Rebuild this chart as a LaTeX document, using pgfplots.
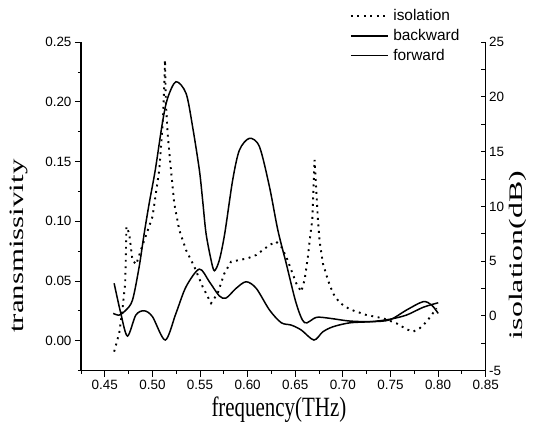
\documentclass[border=0pt]{standalone}
\usepackage{fontspec}
\setmainfont{Liberation Sans}
\newfontfamily\tnr{Liberation Serif}
\usepackage{graphicx}
\usepackage{pgfplots}
\pgfplotsset{compat=1.18}
\usetikzlibrary{calc}

\begin{document}
\begin{tikzpicture}
\pgfplotsset{
  every axis/.append style={
    width=404.7bp, height=328.4bp, scale only axis,
    xmin=0.425, xmax=0.85,
    /pgf/number format/assume math mode=true,
    tick style={line width=0.9pt, black},
    axis line style={line width=1.2pt},
    ticklabel style={font=\fontsize{13.5}{15}\selectfont},
  },
  curve/.style={black, line width=1.5pt, smooth, tension=0.5},
}
% transmissivity (left axis)
\begin{axis}[
  axis x line*=bottom, axis y line*=left,
  ymin=-0.025, ymax=0.25,
  xtick={0.45,0.50,0.55,0.60,0.65,0.70,0.75,0.80,0.85},
  minor xtick={0.425,0.475,0.525,0.575,0.625,0.675,0.725,0.775,0.825},
  ytick={0,0.05,0.10,0.15,0.20,0.25},
  minor ytick={-0.025,0.025,0.075,0.125,0.175,0.225},
  tick align=outside, major tick length=6bp, minor tick length=3bp,
  xticklabel style={/pgf/number format/.cd, fixed, fixed zerofill, precision=2},
  yticklabel style={/pgf/number format/.cd, fixed, fixed zerofill, precision=2},
  xlabel={\scalebox{0.75}[1]{\tnr\fontsize{28}{30}\selectfont frequency(THz)}},
  xlabel style={at={(axis description cs:0.489,-0.12)}, anchor=center},
  ylabel={\scalebox{1}[0.66]{\tnr\fontsize{31}{33}\selectfont transmissivity}},
  ylabel style={at={(axis description cs:-0.153,0.379)}, anchor=center},
]
\coordinate (ll) at (rel axis cs:0,0);
\coordinate (ur) at (rel axis cs:1,1);
% forward
\addplot[curve] coordinates {
  (0.4588,0.0229) (0.4651,0.0215) (0.4720,0.0255) (0.4791,0.0341)
  (0.4861,0.0620) (0.4914,0.0900) (0.4966,0.1150) (0.5030,0.1430)
  (0.5106,0.1830) (0.5159,0.2030) (0.5247,0.2169) (0.5353,0.2072)
  (0.5422,0.1792) (0.5493,0.1430) (0.5527,0.1180) (0.5563,0.0900)
  (0.5616,0.0676) (0.5651,0.0586) (0.5703,0.0676) (0.5760,0.0900)
  (0.5843,0.1346) (0.5914,0.1597) (0.6019,0.1695) (0.6124,0.1625)
  (0.6229,0.1290) (0.6317,0.0927) (0.6405,0.0648) (0.6510,0.0313)
  (0.6598,0.0151) (0.6721,0.0196) (0.6861,0.0188) (0.7072,0.0165)
  (0.7300,0.0160) (0.7493,0.0175) (0.7668,0.0257) (0.7843,0.0327)
  (0.7932,0.0299) (0.8001,0.0229)
};
% backward
\addplot[curve] coordinates {
  (0.4598,0.0481) (0.4668,0.0229) (0.4738,0.0039) (0.4826,0.0215)
  (0.4914,0.0251) (0.5001,0.0201) (0.5135,0.0006) (0.5247,0.0229)
  (0.5353,0.0452) (0.5493,0.0600) (0.5598,0.0494) (0.5703,0.0375)
  (0.5774,0.0358) (0.5879,0.0439) (0.5984,0.0494) (0.6090,0.0439)
  (0.6230,0.0257) (0.6353,0.0151) (0.6458,0.0131) (0.6563,0.0090)
  (0.6696,0.0006) (0.6790,0.0075) (0.6896,0.0117) (0.7072,0.0150)
  (0.7300,0.0160) (0.7493,0.0180) (0.7668,0.0215) (0.7843,0.0280)
  (0.8001,0.0318)
};
\end{axis}
% isolation (right axis)
\begin{axis}[
  axis x line=none, axis y line*=right,
  ymin=-5, ymax=25,
  ytick={-5,0,5,10,15,20,25},
  minor ytick={-2.5,2.5,7.5,12.5,17.5,22.5},
  tick align=inside, major tick length=5bp, minor tick length=5bp,
  ylabel={\scalebox{1}[0.6]{\tnr\fontsize{32}{34}\selectfont isolation(dB)}},
  ylabel style={at={(axis description cs:1.0785,0.352)}, anchor=center},
  legend cell align=left,
  legend style={at={(axis description cs:0.664,1.101)}, anchor=north west,
    draw=none, fill=none, inner sep=0pt, row sep=6bp, column sep=4bp,
    nodes={inner sep=0.5bp}, font=\fontsize{15.5}{17}\selectfont},
  legend image code/.code={\draw[#1] (0bp,0bp) -- (37bp,0bp);},
]
\addplot[black, line width=1.9bp, dash pattern=on 1.9bp off 4.6bp] coordinates {
  (0.4598,-3.27) (0.4651,-1.59) (0.4685,0.54) (0.4714,2.98) (0.4721,5.41)
  (0.4727,8.15) (0.4756,7.54) (0.4790,5.10) (0.4830,4.70) (0.4879,6.02)
  (0.5001,9.06) (0.5072,13.32) (0.5106,17.28) (0.5124,20.93) (0.5132,23.37)
  (0.5142,19.40) (0.5159,16.70) (0.5195,13.30) (0.5229,10.28) (0.5282,7.84)
  (0.5353,6.02) (0.5440,4.49) (0.5527,2.67) (0.5616,1.15) (0.5685,2.06)
  (0.5756,3.89) (0.5826,4.95) (0.5914,5.10) (0.6001,5.26) (0.6090,5.56)
  (0.6160,6.02) (0.6230,6.47) (0.6300,6.78) (0.6353,6.32) (0.6405,5.41)
  (0.6458,4.19) (0.6510,2.98) (0.6563,2.21) (0.6598,3.28) (0.6633,5.41)
  (0.6658,7.39) (0.6679,8.76) (0.6703,14.24) (0.6738,8.76) (0.6756,6.80)
  (0.6790,4.80) (0.6843,3.28) (0.6896,2.06) (0.6966,1.20) (0.7072,0.60)
  (0.7247,0.08) (0.7422,-0.22) (0.7563,-0.68) (0.7668,-1.22) (0.7738,-1.44)
  (0.7808,-1.13) (0.7879,-0.53) (0.7932,0.08) (0.7985,0.69)
};
\addlegendentry{isolation}
\addlegendimage{black, line width=1.5pt}
\addlegendentry{backward}
\addlegendimage{black, line width=1.5pt}
\addlegendentry{forward}
\end{axis}
\pgfresetboundingbox
\path[use as bounding box] ($(ll)+(-81bp,-55.4bp)$) rectangle ($(ur)+(48.3bp,42.2bp)$);
\end{tikzpicture}
\end{document}
